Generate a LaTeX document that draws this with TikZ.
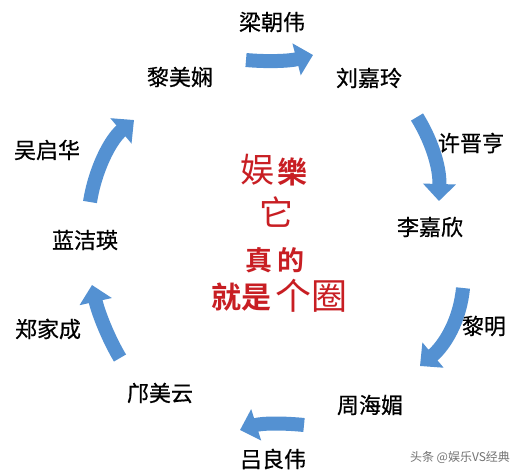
\documentclass[tikz,border=0pt]{standalone}
\usepackage{fontspec}
\newfontfamily\cjk{Noto Sans CJK SC}
\newfontfamily\cjkname[FakeBold=0.6]{Noto Sans CJK SC}
\newfontfamily\cjkbold{Noto Sans CJK SC Bold}
\usetikzlibrary{arrows.meta}
\definecolor{arrowblue}{RGB}{84,145,210}
\definecolor{txtred}{RGB}{200,30,35}
\begin{document}
\begin{tikzpicture}[x=1pt,y=-1pt,
  person/.style={font=\cjkname\fontsize{22}{22}\selectfont, inner sep=0pt},
  bigarrow/.style={draw=arrowblue, line width=14pt, -{Triangle[width=32pt,length=17pt]}},
  ctext/.style={text=txtred, inner sep=0pt}]
\useasboundingbox[fill=white] (0,0) rectangle (532,475);
% names
\node[person] (n1) at (272,22) {梁朝伟};
\node[person] (n2) at (369,78) {刘嘉玲};
\node[person] (n3) at (471,143) {许晋亨};
\node[person] (n4) at (430,227) {李嘉欣};
\node[person] (n5) at (484,326) {黎明};
\node[person] (n6) at (370,405) {周海媚};
\node[person] (n7) at (273,459) {吕良伟};
\node[person] (n8) at (160,393) {邝美云};
\node[person] (n9) at (48,329) {郑家成};
\node[person] (n10) at (85,240) {蓝洁瑛};
\node[person] (n11) at (47,150) {吴启华};
\node[person] (n12) at (180,77) {黎美娴};
% arrows
\coordinate (a1s) at (246,60); \coordinate (a1e) at (313,55);
\draw[bigarrow] (a1s) .. controls (268,62) and (290,61) .. (a1e);
\coordinate (a2s) at (417,117); \coordinate (a2e) at (439,201);
\draw[bigarrow] (a2s) .. controls (430,138) and (440,165) .. (a2e);
\coordinate (a3s) at (463,288); \coordinate (a3e) at (420,366);
\draw[bigarrow] (a3s) .. controls (460,320) and (445,345) .. (a3e);
\coordinate (a4s) at (304,425); \coordinate (a4e) at (240,430);
\draw[bigarrow] (a4s) .. controls (285,423) and (262,423) .. (a4e);
\coordinate (a5s) at (120,358); \coordinate (a5e) at (92,285);
\draw[bigarrow] (a5s) .. controls (108,338) and (98,312) .. (a5e);
\coordinate (a6s) at (90,202); \coordinate (a6e) at (134,120);
\draw[bigarrow] (a6s) .. controls (95,170) and (110,140) .. (a6e);
% centre text
\node[ctext, font=\cjk\fontsize{34}{34}\selectfont] (c1) at (257,170) {娱};
\node[ctext, font=\cjkbold\fontsize{30}{30}\selectfont] (c2) at (292,172) {樂};
\node[ctext, font=\cjk\fontsize{34}{34}\selectfont] (c3) at (276,212) {它};
\node[ctext, font=\cjkbold\fontsize{27}{27}\selectfont] (c4) at (275,260) {真\hspace{6pt}的};
\node[ctext, font=\cjkbold\fontsize{30}{30}\selectfont] (c5) at (241,297) {就是};
\node[ctext, font=\cjk\fontsize{36}{36}\selectfont] (c6) at (311,296) {个圈};
% watermark
\node[font=\cjk\fontsize{12}{12}\selectfont, text=black!55, inner sep=0pt] (wm) at (460,457) {头条 @娱乐VS经典};
\end{tikzpicture}
\end{document}
